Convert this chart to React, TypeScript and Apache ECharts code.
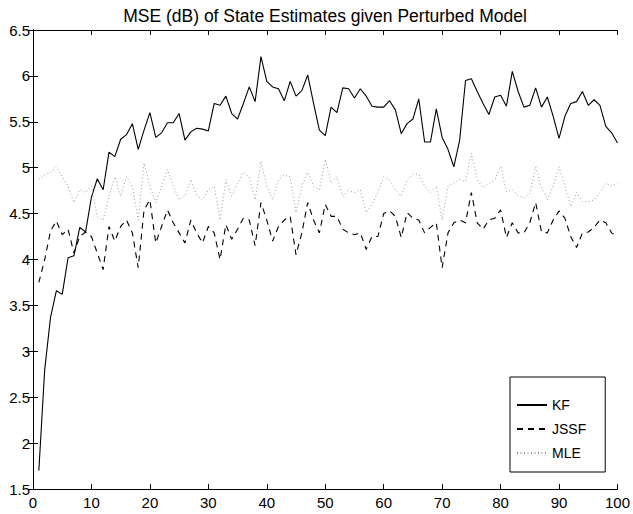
import React, { useEffect, useRef } from "react";
import * as echarts from "echarts";

const xValues: number[] = Array.from({ length: 100 }, (_, i) => i + 1);

const kf: number[] = [
  1.70, 2.80, 3.37, 3.66, 3.62, 4.02, 4.04, 4.35, 4.30, 4.68,
  4.88, 4.76, 5.17, 5.12, 5.31, 5.36, 5.48, 5.20, 5.41, 5.60,
  5.33, 5.38, 5.49, 5.49, 5.59, 5.30, 5.39, 5.43, 5.42, 5.40,
  5.70, 5.68, 5.78, 5.59, 5.53, 5.70, 5.88, 5.72, 6.21, 5.94,
  5.88, 5.86, 5.73, 5.94, 5.78, 5.84, 6.01, 5.70, 5.41, 5.35,
  5.66, 5.60, 5.87, 5.86, 5.76, 5.86, 5.78, 5.67, 5.66, 5.66,
  5.73, 5.63, 5.37, 5.48, 5.53, 5.75, 5.28, 5.28, 5.64, 5.33,
  5.20, 5.01, 5.30, 5.95, 5.97, 5.83, 5.70, 5.58, 5.77, 5.79,
  5.67, 6.05, 5.83, 5.66, 5.68, 5.87, 5.66, 5.77, 5.56, 5.32,
  5.56, 5.70, 5.72, 5.83, 5.68, 5.74, 5.68, 5.45, 5.38, 5.27,
];

const jssf: number[] = [
  3.75, 4.00, 4.31, 4.42, 4.27, 4.33, 4.07, 4.25, 4.30, 4.25,
  4.07, 3.89, 4.36, 4.20, 4.36, 4.43, 4.29, 3.91, 4.54, 4.65,
  4.18, 4.36, 4.54, 4.40, 4.29, 4.18, 4.43, 4.29, 4.18, 4.36,
  4.29, 4.00, 4.38, 4.22, 4.33, 4.45, 4.43, 4.15, 4.62, 4.43,
  4.20, 4.36, 4.43, 4.47, 4.05, 4.29, 4.62, 4.43, 4.29, 4.60,
  4.47, 4.47, 4.33, 4.29, 4.27, 4.29, 4.11, 4.25, 4.25, 4.50,
  4.53, 4.47, 4.24, 4.51, 4.45, 4.43, 4.29, 4.35, 4.40, 3.91,
  4.29, 4.40, 4.43, 4.40, 4.73, 4.40, 4.33, 4.43, 4.45, 4.54,
  4.24, 4.40, 4.29, 4.29, 4.40, 4.62, 4.30, 4.29, 4.43, 4.53,
  4.45, 4.25, 4.13, 4.29, 4.30, 4.35, 4.43, 4.40, 4.29, 4.25,
];

const mle: number[] = [
  4.87, 4.92, 4.95, 5.01, 4.90, 4.80, 4.62, 4.76, 4.73, 4.80,
  4.47, 4.43, 4.69, 4.90, 4.69, 4.90, 4.80, 4.43, 5.05, 4.80,
  4.62, 4.80, 4.98, 4.80, 4.65, 4.69, 4.87, 4.70, 4.65, 4.76,
  4.80, 4.43, 4.87, 4.69, 4.83, 4.95, 4.90, 4.65, 5.07, 4.80,
  4.65, 4.87, 4.92, 4.90, 4.51, 4.80, 4.95, 4.80, 4.76, 5.09,
  4.83, 4.90, 4.69, 4.75, 4.73, 4.76, 4.51, 4.60, 4.73, 4.90,
  4.87, 4.76, 4.69, 4.87, 4.93, 4.93, 4.80, 4.73, 4.80, 4.43,
  4.80, 4.83, 4.87, 4.85, 5.16, 4.87, 4.78, 4.83, 4.87, 5.01,
  4.74, 4.76, 4.70, 4.67, 4.72, 5.01, 4.78, 4.65, 4.80, 5.01,
  4.80, 4.58, 4.73, 4.63, 4.63, 4.65, 4.73, 4.83, 4.80, 4.83,
];

const seriesNames: string[] = ["KF", "JSSF", "MLE"];
const titleText = "MSE (dB) of State Estimates given Perturbed Model";

const FONT = "Liberation Sans, Arial, Helvetica, sans-serif";

export default function App() {
  const ref = useRef<HTMLDivElement>(null);
  useEffect(() => {
    if (!ref.current) return;
    const chart = echarts.init(ref.current, null, { renderer: "svg" });
    const pair = (arr: number[]) => arr.map((v, i) => [xValues[i], v]);
    const axisCommon = {
      axisLine: { show: true, lineStyle: { color: "#000", width: 1 } },
      axisTick: { show: true, inside: true, length: 5, lineStyle: { color: "#000" } },
      splitLine: { show: false },
    };
    chart.setOption({
      animation: false,
      backgroundColor: "#fff",
      title: {
        text: titleText,
        left: 320,
        textAlign: "center",
        top: 2,
        textStyle: { fontFamily: FONT, fontSize: 17.5, fontWeight: "normal", color: "#000" },
      },
      grid: { left: 33, right: 13, top: 30, bottom: 25, containLabel: false },
      xAxis: [
        {
          type: "value",
          min: 0,
          max: 100,
          interval: 10,
          position: "bottom",
          ...axisCommon,
          axisLabel: { fontFamily: FONT, fontSize: 15, color: "#000", margin: 6 },
        },
        {
          type: "value",
          min: 0,
          max: 100,
          interval: 10,
          position: "top",
          ...axisCommon,
          axisLabel: { show: false },
        },
      ],
      yAxis: [
        {
          type: "value",
          min: 1.5,
          max: 6.5,
          interval: 0.5,
          position: "left",
          ...axisCommon,
          axisLabel: { fontFamily: FONT, fontSize: 15, color: "#000", margin: 3 },
        },
        {
          type: "value",
          min: 1.5,
          max: 6.5,
          interval: 0.5,
          position: "right",
          ...axisCommon,
          axisLabel: { show: false },
        },
      ],
      legend: {
        orient: "vertical",
        left: 510,
        top: 377,
        data: seriesNames,
        itemWidth: 30,
        itemHeight: 14,
        itemGap: 10,
        padding: [21, 19, 12, 6],
        borderColor: "#000",
        borderWidth: 1,
        backgroundColor: "#fff",
        itemStyle: { opacity: 0 },
        textStyle: { fontFamily: FONT, fontSize: 14, color: "#000" },
      },
      series: [
        {
          name: seriesNames[0],
          type: "line",
          data: pair(kf),
          symbol: "none",
          lineStyle: { color: "#000", width: 1.1, type: "solid" },
          itemStyle: { color: "#000" },
        },
        {
          name: seriesNames[1],
          type: "line",
          data: pair(jssf),
          symbol: "none",
          lineStyle: { color: "#000", width: 1.1, type: [6, 5] },
          itemStyle: { color: "#000" },
        },
        {
          name: seriesNames[2],
          type: "line",
          data: pair(mle),
          symbol: "none",
          lineStyle: { color: "#999", width: 1, type: [1, 2.5] },
          itemStyle: { color: "#999" },
        },
      ],
    });
    return () => chart.dispose();
  }, []);
  return (
    <div
      ref={ref}
      style={{ position: "absolute", left: 0, top: 0, width: 633, height: 514 }}
    />
  );
}
